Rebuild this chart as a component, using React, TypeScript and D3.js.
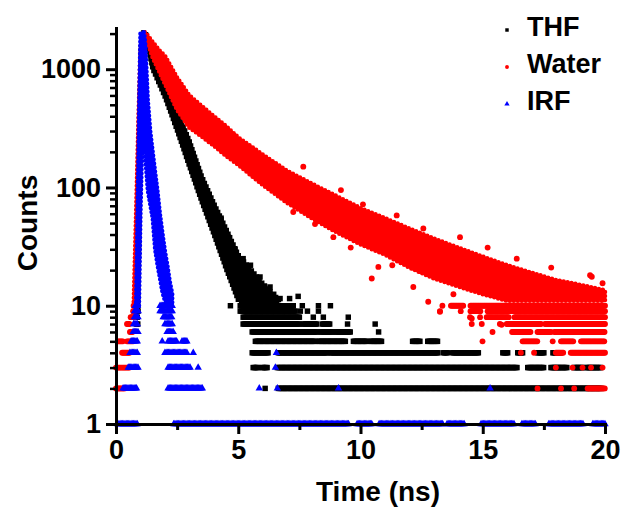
import { useEffect, useRef } from "react";
import * as d3 from "d3";

const W = 621;
const H = 508;
const FONT = "'Liberation Sans', Arial, sans-serif";

// axis ticks
const xTicks = [0, 5, 10, 15, 20];
const xMinorTicks = [2.5, 7.5, 12.5, 17.5];
const yTicks = [1, 10, 100, 1000];
const yMinorTicks = [2, 3, 4, 5, 6, 7, 8, 9, 20, 30, 40, 50, 60, 70, 80, 90, 200, 300, 400, 500, 600, 700, 800, 900, 2000];

const seriesNames = ["THF", "Water", "IRF"];
const seriesColors = ["#000000", "#ff0000", "#0000ff"];

// one TCSPC channel, used to lay out the runs of equal counts
const CHANNEL = 0.05;

// THF: dense cloud of points, time (ns) with upper / lower counts edge
const thfCloudT = [0.84, 0.9, 0.96, 1.02, 1.08, 1.15, 1.2, 1.5, 2.0, 2.5, 3.0, 3.5, 4.0, 4.5, 5.0, 5.5, 6.0, 6.7];
const thfCloudHi = [9, 60, 400, 1500, 2050, 2050, 2050, 1350, 850, 440, 250, 126, 74, 45, 27, 20.5, 15.5, 11];
const thfCloudLo = [9, 9, 60, 400, 1500, 2000, 1900, 1000, 580, 302, 150, 76, 40, 20.5, 11, 11, 11, 11];
// THF: rows of equal counts [counts, from ns, to ns]
const thfRuns = [
  [9, 0.8, 0.9], [8, 0.82, 0.9], [7, 0.84, 0.9],
  [10, 4.68], [10, 5.08, 6.93], [10, 7.05, 7.25], [10, 7.62], [10, 8.28], [10, 8.77],
  [9, 5.08, 7.34], [9, 7.54], [9, 7.83], [9, 8.28],
  [8, 5.2, 7.54], [8, 8.07], [8, 8.48], [8, 9.5],
  [7, 5.2, 7.54], [7, 7.66, 8.24], [7, 8.44, 8.77], [7, 9.47], [7, 10.6],
  [6, 5.57, 8.24], [6, 8.36, 8.89], [6, 8.98, 9.59], [6, 10.74],
  [5, 5.7, 8.16], [5, 8.28, 9.39], [5, 9.71, 10.29], [5, 10.41, 10.9], [5, 12.13, 12.46], [5, 12.75, 13.16],
  [4, 5.57, 5.78], [4, 5.82, 6.23], [4, 6.64, 8.65], [4, 8.77, 13.2], [4, 13.4, 13.57], [4, 13.77, 14.84],
  [4, 15.82, 16.02], [4, 16.43, 16.64], [4, 17.25, 17.5], [4, 17.87, 18.2],
  [3, 5.61, 5.82], [3, 5.98, 6.19], [3, 6.6, 16.43], [3, 16.84, 17.5], [3, 17.79, 18.48], [3, 18.73, 19.1], [3, 19.22, 19.84],
  [2, 6.1], [2, 6.64, 19.84],
];
// THF: lone points [ns, counts]
const thfDots = [
  [4.05, 62], [4.3, 55], [4.6, 38], [4.87, 30], [5.2, 25], [5.5, 22], [5.89, 17.5], [6.0, 11.2],
  [6.1, 13.5], [6.3, 14.4], [6.45, 12.5], [6.71, 11.5], [7.1, 11.5], [7.45, 12],
];

// Water
const waterCloudT = [0.72, 0.82, 0.92, 1.0, 1.08, 1.15, 1.2, 1.5, 1.8, 2.0, 2.5, 3.0, 3.5, 4.0, 4.5, 5.0, 6.0, 7.0, 8.0, 9.0, 10, 11, 12, 13, 14, 15, 16, 17, 18, 19, 20];
const waterCloudHi = [10, 60, 400, 1500, 2050, 2050, 2050, 1700, 1420, 1300, 850, 600, 490, 400, 330, 265, 190, 138, 108, 85, 67, 55, 45, 37, 31, 26, 22, 19, 16.5, 15, 13.5];
const waterCloudLo = [10, 10, 60, 300, 1200, 1950, 1900, 1250, 920, 750, 451, 320, 270, 225, 185, 155, 105, 74, 55, 42, 33, 27, 21, 17, 14.5, 12.5, 11, 11, 11, 11, 11];
const waterRuns = [
  [2, 0, 0.37], [3, 0, 0.57], [4, 0.25, 0.57], [5, 0.08, 0.29], [5, 0.45, 0.7], [6, 0.57, 0.7],
  [7, 0.45, 0.57], [8, 0.6, 0.75], [9, 0.7, 0.75], [10, 0.72],
  [10, 13.35], [10, 13.7, 14.2], [10, 14.5, 20],
  [9, 13.25], [9, 14.1], [9, 14.5, 14.9], [9, 15.2, 20],
  [8, 14.48], [8, 14.89], [8, 15.16, 16.1], [8, 16.3, 20],
  [7, 14.55], [7, 14.96], [7, 15.7], [7, 15.98, 17.4], [7, 17.55, 20],
  [6, 15.4], [6, 16.2, 16.97], [6, 17.24, 17.79], [6, 17.93, 20],
  [5, 14.99], [5, 16.63, 17.24], [5, 17.86], [5, 18.2, 18.74], [5, 19.02, 20],
  [4, 16.56], [4, 17.1], [4, 17.99, 18.33], [4, 18.6, 20],
  [3, 17.99], [3, 18.67], [3, 19.08], [3, 19.43], [3, 19.9],
  [2, 17.24], [2, 18.2], [2, 18.74], [2, 19.29, 20],
];
const waterDots = [
  [7.66, 150], [9.2, 95], [10.1, 72], [11.48, 58], [12.57, 45], [14.07, 38], [15.2, 31], [16.39, 25],
  [17.8, 21], [19.39, 18.1], [19.46, 17.6], [19.9, 15.5],
  [7.25, 62], [8.14, 49], [8.89, 38], [9.6, 31], [10.46, 17], [10.73, 21.3], [11.3, 22], [12.16, 14.4],
  [12.77, 10.8], [13.25, 8.9], [13.8, 12.5], [14.2, 15.4], [14.55, 7.8], [15.77, 6.9],
];

// IRF
const irfCloudT = [0.82, 0.88, 0.94, 1.0, 1.05, 1.1, 1.15, 1.2, 1.3, 1.4, 1.5, 1.6, 1.7, 1.8, 1.9, 2.0, 2.1, 2.2, 2.3];
const irfCloudHi = [10, 60, 400, 2000, 2050, 2050, 2050, 1600, 550, 300, 200, 135, 92, 59, 41, 29, 22, 16, 12.6];
const irfCloudLo = [10, 10, 10, 60, 160, 300, 250, 180, 95, 72, 55, 30, 22, 17, 13, 11, 10, 10, 10];
const irfRuns = [
  [2, 0.29, 0.86], [3, 0.5, 0.9], [4, 0.57, 0.9], [5, 0.62, 0.9], [6, 0.7, 0.9], [7, 0.72, 0.9],
  [8, 0.75, 0.92], [9, 0.76, 0.92], [10, 0.78, 0.92],
  [10, 1.8, 2.34], [9, 1.8, 2.3], [8, 1.93, 2.3], [7, 2.0, 2.34], [6, 2.09, 2.34],
  [5, 1.89], [5, 2.13, 2.5], [5, 2.7, 2.91], [4, 2.0, 2.91], [4, 3.16], [3, 2.13, 3.03], [3, 3.36], [2, 2.13, 3.57],
  [4, 6.56], [3, 6.52], [2, 5.86], [2, 6.6], [2, 9.1], [2, 15.3],
  [1, 0.07, 0.9], [1, 2.36, 9.51], [1, 9.86, 10.5], [1, 10.76, 13.4], [1, 13.54, 14.24],
  [1, 14.93, 16.3], [1, 16.6, 17.15], [1, 17.7, 19.1], [1, 19.5, 20],
];
const irfDots: number[][] = [];

function expandRuns(runs: number[][]) {
  const pts: [number, number][] = [];
  for (const r of runs) {
    const [c, t0] = r;
    const t1 = r.length > 2 ? r[2] : t0;
    for (let t = t0; t <= t1 + 1e-9; t += CHANNEL) pts.push([t, c]);
  }
  return pts;
}

export default function App() {
  const xAxisRef = useRef<SVGGElement>(null);
  const yAxisRef = useRef<SVGGElement>(null);

  const x = d3.scaleLinear().domain([0, 20]).range([116, 605]);
  const y = d3.scaleLog().domain([1, 2230]).range([424, 28]);

  useEffect(() => {
    const style = (g: d3.Selection<SVGGElement, unknown, null, undefined>) => {
      g.attr("font-family", FONT).attr("font-size", 27).attr("font-weight", "bold");
      g.select(".domain").attr("stroke-width", 3).attr("stroke-linecap", "square");
      g.selectAll(".tick line").attr("stroke-width", 3);
      g.selectAll(".tick text").attr("fill", "#000");
    };
    const gx = d3.select(xAxisRef.current!);
    gx.selectAll("*").remove();
    gx.append("g").call(
      d3.axisBottom(x).tickValues(xMinorTicks).tickSize(6).tickSizeOuter(0).tickFormat(() => "")
    ).call((g) => {
      g.select(".domain").remove();
      g.selectAll(".tick line").attr("stroke-width", 3);
    });
    gx.append("g").call(
      d3.axisBottom(x).tickValues(xTicks).tickSize(10).tickPadding(6).tickSizeOuter(0)
    ).call(style);

    const gy = d3.select(yAxisRef.current!);
    gy.selectAll("*").remove();
    gy.append("g").call(
      d3.axisLeft(y).tickValues(yMinorTicks).tickSize(6).tickSizeOuter(0).tickFormat(() => "")
    ).call((g) => {
      g.select(".domain").remove();
      g.selectAll(".tick line").attr("stroke-width", 2.5);
    });
    gy.append("g").call(
      d3.axisLeft(y).tickValues(yTicks).tickSize(10).tickPadding(5).tickSizeOuter(0).tickFormat(d3.format("d"))
    ).call(style);
  }, []);

  const series = [
    { cloudT: thfCloudT, hi: thfCloudHi, lo: thfCloudLo, runs: thfRuns, dots: thfDots, mark: "mk-thf", cap: "square" },
    { cloudT: waterCloudT, hi: waterCloudHi, lo: waterCloudLo, runs: waterRuns, dots: waterDots, mark: "mk-water", cap: "round" },
    { cloudT: irfCloudT, hi: irfCloudHi, lo: irfCloudLo, runs: irfRuns, dots: irfDots, mark: "mk-irf", cap: "round" },
  ];

  const sq = d3.symbol().type(d3.symbolSquare).size(30)()!;
  const circ = d3.symbol().type(d3.symbolCircle).size(27)()!;
  const tri = d3.symbol().type(d3.symbolTriangle).size(24)()!;
  const legSq = d3.symbol().type(d3.symbolSquare).size(12)()!;
  const legCirc = d3.symbol().type(d3.symbolCircle).size(12)()!;
  const legTri = d3.symbol().type(d3.symbolTriangle).size(12)()!;
  const legendMarks = [legSq, legCirc, legTri];

  return (
    <svg width={W} height={H} style={{ position: "absolute", left: 0, top: 0, background: "#fff" }}>
      <defs>
        <path id="mk-thf" d={sq} fill={seriesColors[0]} />
        <path id="mk-water" d={circ} fill={seriesColors[1]} />
        <path id="mk-irf" d={tri} fill={seriesColors[2]} />
      </defs>
      <rect width={W} height={H} fill="#fff" />

      {series.map((s, si) => {
        const area = d3
          .area<number>()
          .x((t) => x(t))
          .y0((_, i) => y(s.lo[i]))
          .y1((_, i) => y(s.hi[i]));
        const pts = expandRuns(s.runs).concat(s.dots.map((d) => [d[0], d[1]] as [number, number]));
        return (
          <g key={seriesNames[si]}>
            <path
              d={area(s.cloudT) ?? ""}
              fill={seriesColors[si]}
              stroke={seriesColors[si]}
              strokeWidth={4.5}
              strokeDasharray="0 4"
              strokeLinecap={s.cap as any}
              strokeLinejoin="round"
            />
            {pts.map((p, i) => (
              <use key={i} href={`#${s.mark}`} x={x(p[0])} y={y(p[1])} />
            ))}
          </g>
        );
      })}

      <g ref={xAxisRef} transform={`translate(0,${y(1)})`} />
      <g ref={yAxisRef} transform={`translate(${x(0)},0)`} />

      <text x={378} y={501} textAnchor="middle" fontFamily={FONT} fontWeight="bold" fontSize={28}>
        Time (ns)
      </text>
      <text
        transform={`translate(37,223) rotate(-90)`}
        textAnchor="middle"
        fontFamily={FONT}
        fontWeight="bold"
        fontSize={28}
      >
        Counts
      </text>

      {seriesNames.map((name, i) => (
        <g key={name} transform={`translate(0,${30 + i * 37})`}>
          <path d={legendMarks[i]} transform="translate(507,0)" fill={seriesColors[i]} />
          <text x={527} y={6} fontFamily={FONT} fontWeight="bold" fontSize={27}>
            {name}
          </text>
        </g>
      ))}
    </svg>
  );
}
